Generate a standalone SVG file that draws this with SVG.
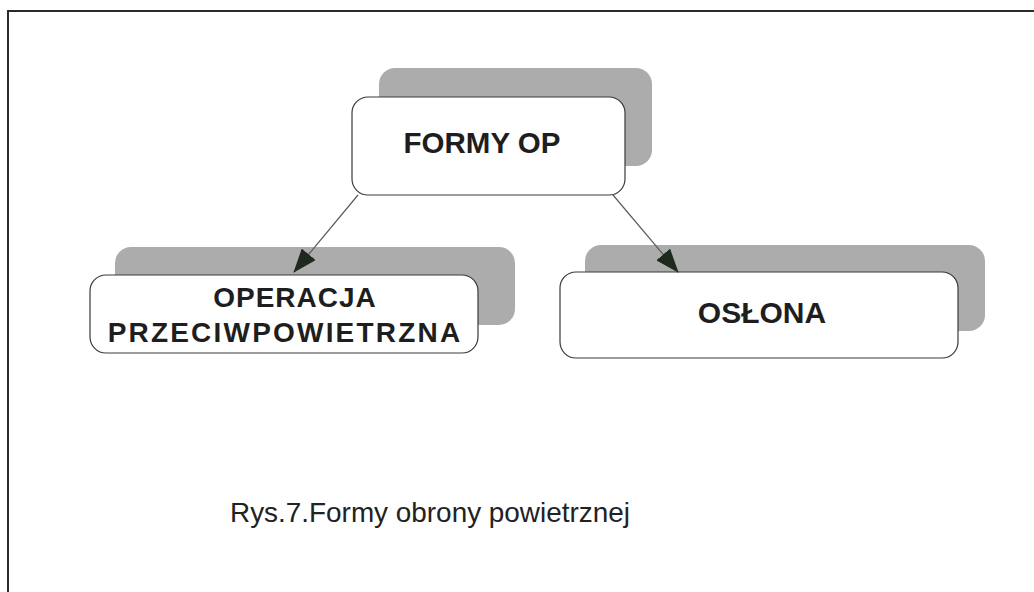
<svg xmlns="http://www.w3.org/2000/svg" width="1034" height="592" viewBox="0 0 1034 592">
<style>
.shadow{fill:#acacac;}
.box{fill:#ffffff;stroke:#3a3a3a;stroke-width:1.2;}
.lbl{font-family:"Liberation Sans",Arial,sans-serif;font-weight:bold;fill:#1e1e1e;text-anchor:middle;}
.conn{stroke:#5a5a5a;stroke-width:1.2;fill:none;}
.cap{font-family:"Liberation Sans",Arial,sans-serif;fill:#222;font-size:27.9px;}
</style>
<defs>
<marker id="ah" viewBox="0 0 24 18" refX="23" refY="9" markerWidth="24" markerHeight="18" markerUnits="userSpaceOnUse" orient="auto">
<path d="M0,0 L24,9 L0,18 Z" fill="#1f2a1f"/>
</marker>
</defs>
<rect width="1034" height="592" fill="#ffffff"/>
<g id="frame">
<path d="M8,592 L8,11 L1034,11" fill="none" stroke="#2a2a2a" stroke-width="2"/>
</g>
<g id="node-formy">
<rect class="shadow" x="379" y="68" width="273" height="98" rx="16"/>
<rect class="box" x="352" y="97" width="273" height="98" rx="16"/>
<text class="lbl" x="482" y="153" font-size="29.5px">FORMY OP</text>
</g>
<g id="node-operacja">
<rect class="shadow" x="115" y="247" width="400" height="78" rx="16"/>
<rect class="box" x="90" y="275" width="388" height="78" rx="16"/>
<text class="lbl" x="295" y="307" font-size="28px" letter-spacing="1">OPERACJA</text>
<text class="lbl" x="285" y="342" font-size="28px" letter-spacing="2.2">PRZECIWPOWIETRZNA</text>
</g>
<g id="node-oslona">
<rect class="shadow" x="585" y="245" width="400" height="86" rx="16"/>
<rect class="box" x="560" y="272" width="398" height="86" rx="16"/>
<text class="lbl" x="762" y="323" font-size="30px">OSŁONA</text>
</g>
<g id="connectors">
<line class="conn" x1="358" y1="195" x2="294" y2="272" marker-end="url(#ah)"/>
<line class="conn" x1="613" y1="195" x2="678" y2="272" marker-end="url(#ah)"/>
</g>
<text class="cap" x="230" y="522">Rys.7.Formy obrony powietrznej</text>
</svg>
